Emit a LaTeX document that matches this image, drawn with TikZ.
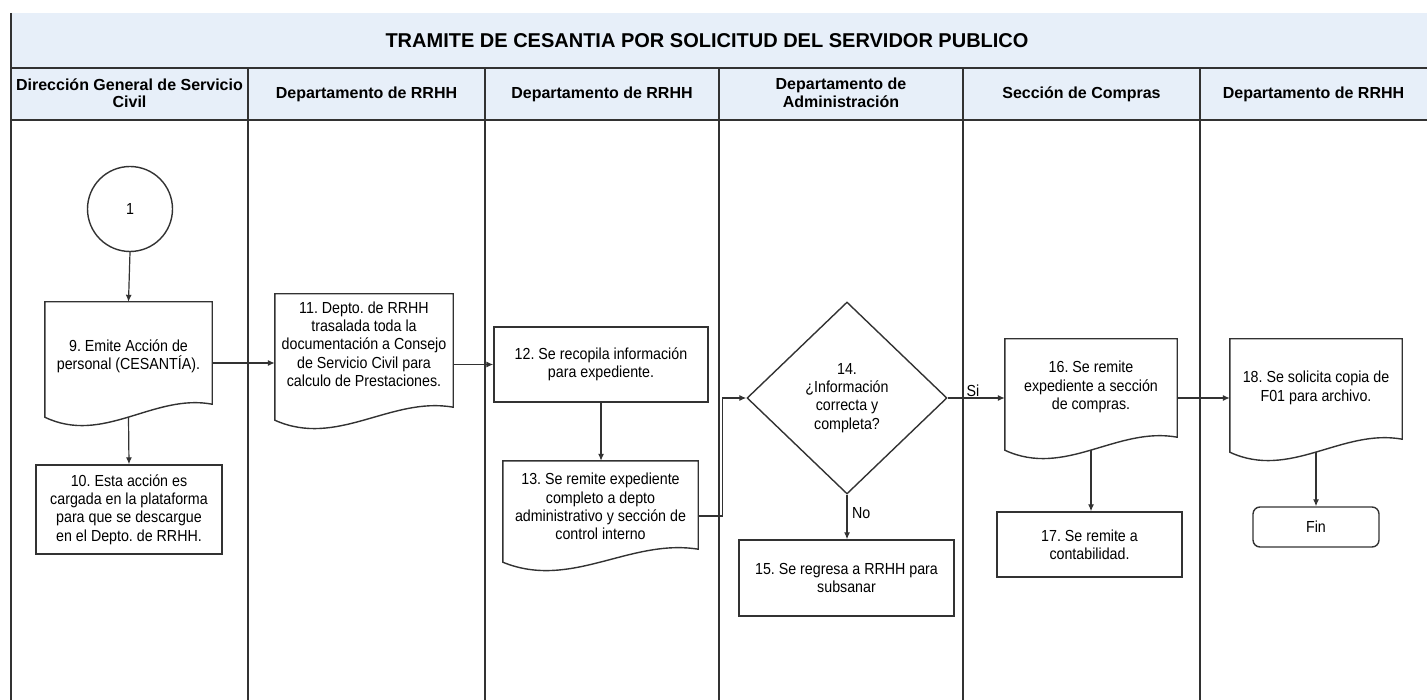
\documentclass[tikz,border=0pt]{standalone}
\usepackage{fontspec}
\setmainfont{Liberation Sans}
\newfontfamily\bodyf[FakeStretch=0.89]{Liberation Sans}
\usetikzlibrary{shapes.geometric,arrows.meta,calc}
\definecolor{band}{RGB}{231,239,249}
\definecolor{ln}{RGB}{50,50,50}
\tikzset{
  shp/.style={draw=ln, line width=1.4pt},
  box/.style={rectangle, draw=ln, line width=1.4pt, align=center, inner sep=2pt},
  docu/.style={rectangle, align=flush center, inner sep=2pt},
  tshift/.style={execute at end node={\par\vspace{#1}\hrule height 0pt}},
  arr/.style={draw=ln, line width=1.2pt, -{Latex[length=7pt,width=6pt]}},
  lane/.style={draw=ln, line width=1.5pt},
  hdr/.style={font=\bfseries\fontsize{16}{17.5}\selectfont, align=center},
  lbl/.style={inner sep=1pt},
}
\newcommand\docshape[1]{\draw[shp] (#1.south west) -- (#1.north west) -- (#1.north east) -- ($(#1.south east)+(0,-13)$) .. controls ($(#1.south west)!0.65!(#1.south east)+(0,-24)$) and ($(#1.south west)!0.35!(#1.south east)+(0,28)$) .. (#1.south west) -- cycle;}
\begin{document}
\frenchspacing
\begin{tikzpicture}[x=1pt, y=-1pt, font=\bodyf\fontsize{16}{18.3}\selectfont]
\useasboundingbox (0,0) rectangle (1427,700);
% frame
\fill[band] (11,13) rectangle (1427,120);
\draw[lane] (11,13) -- (11,700);
\draw[lane] (11,68) -- (1427,68);
\draw[lane] (11,120) -- (1427,120);
\foreach \x in {248,485,719,963,1200} \draw[lane] (\x,68) -- (\x,700);
% title and lane headers
\node[font=\bfseries\fontsize{20}{24}\selectfont] (title) at (707,41) {TRAMITE DE CESANTIA POR SOLICITUD DEL SERVIDOR PUBLICO};
\node[hdr] (h1) at (129.5,93) {Dirección General de Servicio\\Civil};
\node[hdr] (h2) at (366.5,94) {Departamento de RRHH};
\node[hdr] (h3) at (602,94) {Departamento de RRHH};
\node[hdr] (h4) at (841,93) {Departamento de\\Administración};
\node[hdr] (h5) at (1081.5,94) {Sección de Compras};
\node[hdr] (h6) at (1313.5,94) {Departamento de RRHH};
% nodes
\node[circle, shp, minimum size=85pt, inner sep=0pt] (c1) at (130,209) {1};
\node[docu, minimum width=167pt, minimum height=115pt, text width=160pt, tshift=7pt] (n9) at (128.5,359.5) {9. Emite Acción de\\personal (CESANTÍA).};
\node[box, minimum width=186pt, minimum height=89pt] (n10) at (129,509.5) {10. Esta acción es\\cargada en la plataforma\\para que se descargue\\en el Depto. de RRHH.};
\node[docu, minimum width=178pt, minimum height=126pt, text width=172pt, tshift=26pt] (n11) at (364,357) {11. Depto. de RRHH\\trasalada toda la\\documentación a Consejo\\de Servicio Civil para\\calculo de Prestaciones.};
\node[box, minimum width=214pt, minimum height=75pt] (n12) at (601,364.5) {12. Se recopila información\\para expediente.};
\node[docu, minimum width=195pt, minimum height=101pt, text width=190pt, tshift=10pt] (n13) at (600.5,511.5) {13. Se remite expediente\\completo a depto\\administrativo y sección de\\control interno};
\node[diamond, shp, minimum width=200pt, minimum height=192pt, inner sep=0pt, align=center] (d14) at (847,398) {14.\\¿Información\\correcta y\\completa?};
\node[box, minimum width=215pt, minimum height=76pt] (n15) at (846.5,578) {15. Se regresa a RRHH para\\subsanar};
\node[docu, minimum width=172pt, minimum height=111pt, text width=166pt, tshift=15pt] (n16) at (1091,394.5) {16. Se remite\\expediente a sección\\de compras.};
\node[box, minimum width=185pt, minimum height=65pt] (n17) at (1089.5,544.5) {17. Se remite a\\contabilidad.};
\node[docu, minimum width=172pt, minimum height=113pt, text width=166pt, tshift=15pt] (n18) at (1316,395.5) {18. Se solicita copia de\\F01 para archivo.};
\node[box, rounded corners=7pt, minimum width=126pt, minimum height=40pt] (fin) at (1316,527) {Fin};
% document outlines
\docshape{n9}
\docshape{n11}
\docshape{n13}
\docshape{n16}
\docshape{n18}
% connectors
\draw[arr] (c1.south) -- (n9.north);
\draw[arr] (n9.south) -- (n10.north);
\draw[arr] ([yshift=-3.5pt]n9.east) -- ([yshift=-3.5pt]n9.east -| n11.west);
\draw[arr] (n11.east |- n12.west) -- (n12.west);
\draw[arr] (n12.south) -- (n12.south |- n13.north);
\draw[arr] ([yshift=-4.5pt]n13.east) -- ++(24,0) |- (d14.west);
\draw[arr] (d14.east) -- (d14.east -| n16.west);
\draw[arr] (d14.south) -- (d14.south |- n15.north);
\draw[arr] (n16.south) -- (n16.south |- n17.north);
\draw[arr] ([yshift=-3.5pt]n16.east) -- ([yshift=-3.5pt]n16.east -| n18.west);
\draw[arr] (n18.south) -- (fin.north);
% branch labels
\node[lbl] (si) at (973,391) {Si};
\node[lbl, anchor=west] (no) at (851,513) {No};
\end{tikzpicture}
\end{document}
